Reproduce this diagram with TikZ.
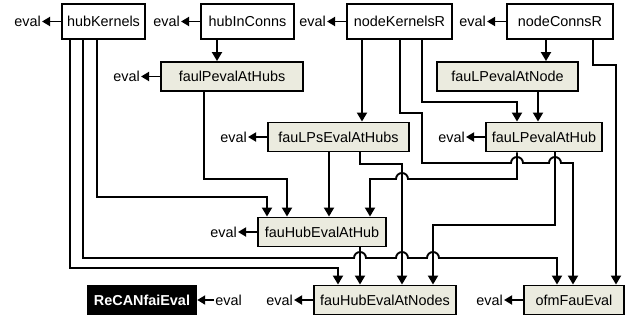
\documentclass[tikz,border=0pt]{standalone}
\usepackage{fontspec}
\setmainfont{Liberation Sans}
\usetikzlibrary{arrows.meta,positioning}
\definecolor{fnfill}{RGB}{235,235,223}
\newcommand{\lblfont}{\fontsize{14.4pt}{17pt}\selectfont}
\tikzset{
  inbox/.style={draw=black, fill=white, line width=1.9pt, minimum height=35pt, inner sep=0pt, font=\lblfont},
  fnbox/.style={draw=black, fill=fnfill, line width=1.9pt, minimum height=29pt, inner sep=0pt, font=\lblfont},
  mainbox/.style={fill=black, text=white, minimum height=30pt, inner sep=0pt, font=\lblfont\bfseries},
  evallbl/.style={inner sep=1pt, font=\lblfont},
  arrow/.style={-{Triangle[length=9pt,width=10pt]}, line width=1.9pt},
  evalarrow/.style={-{Triangle[length=8pt,width=9pt]}, line width=1.9pt}
}

\begin{document}
\begin{tikzpicture}[x=1pt,y=-1pt]
  \useasboundingbox (0,0) rectangle (634,324);
  % inputs
  \node[inbox, minimum width=83pt] (hk) at (103.5,21.5) {hubKernels};
  \node[inbox, minimum width=93pt] (hic) at (247.5,21.5) {hubInConns};
  \node[inbox, minimum width=105pt] (nkr) at (399.5,21.5) {nodeKernelsR};
  \node[inbox, minimum width=106pt] (ncr) at (560,21.5) {nodeConnsR};
  % functions
  \node[fnbox, minimum width=142pt] (fph) at (232,76.5) {faulPevalAtHubs};
  \node[fnbox, minimum width=141pt] (fpn) at (507.5,76.5) {fauLPevalAtNode};
  \node[fnbox, minimum width=141pt] (fps) at (338.5,137) {fauLPsEvalAtHubs};
  \node[fnbox, minimum width=116pt] (fpa) at (544,137) {fauLPevalAtHub};
  \node[fnbox, minimum width=128pt] (fhh) at (322,232) {fauHubEvalAtHub};
  \node[fnbox, minimum width=142pt] (fhn) at (385,300) {fauHubEvalAtNodes};
  \node[fnbox, minimum width=100pt] (ofm) at (574,300) {ofmFauEval};
  \node[mainbox, minimum width=110pt] (rc) at (142,300) {ReCANfaiEval};
  % eval labels
  \foreach \n in {hk,hic,nkr,ncr,fph,fps,fpa,fhh,fhn,ofm} {
    \node[evallbl, left=19pt of \n] (\n Eval) {eval};
    \draw[evalarrow] (\n.west) -- (\n Eval.east);
  }
  \node[evallbl, right=17pt of rc] (rcEval) {eval};
  \draw[evalarrow] (rcEval.west) -- (rc.east);
  % connectors
  \draw[arrow] (hic.south -| 217,0) -- (fph.north -| 217,0);
  \draw[arrow] (ncr.south -| 546,0) -- (fpn.north -| 546,0);
  \draw[arrow] (hk.south -| 97,0) |- (267,197) -- (fhh.north -| 267,0);
  \draw[arrow] (hk.south -| 83,0) |- (354,258) arc[start angle=180,end angle=360,radius=6]
    -- (396,258) arc[start angle=180,end angle=360,radius=6]
    -- (427,258) arc[start angle=180,end angle=360,radius=6] -| (ofm.north -| 557,0);
  \draw[arrow] (hk.south -| 70,0) |- (338,268) -- (fhn.north -| 338,0);
  \draw[arrow] (fph.south -| 204,0) |- (287,179) -- (fhh.north -| 287,0);
  \draw[arrow] (nkr.south -| 362,0) -- (fps.north -| 362,0);
  \draw[arrow] (nkr.south -| 400,0) |- (422,113) |- (511,163) arc[start angle=180,end angle=360,radius=6]
    -- (549,163) arc[start angle=180,end angle=360,radius=6] -| (ofm.north -| 573,0);
  \draw[arrow] (nkr.south -| 422,0) |- (517,102) -- (fpa.north -| 517,0);
  \draw[arrow] (fpn.south -| 538,0) -- (fpa.north -| 538,0);
  \draw[arrow] (ncr.south -| 593,0) |- (616,65) -- (ofm.north -| 616,0);
  \draw[arrow] (fps.south -| 329,0) -- (fhh.north -| 329,0);
  \draw[arrow] (fps.south -| 360,0) |- (402,164) -- (fhn.north -| 402,0);
  \draw[arrow] (fpa.south -| 517,0) |- (408,179) arc[start angle=0,end angle=-180,radius=6] -| (fhh.north -| 370,0);
  \draw[arrow] (fpa.south -| 555,0) |- (433,225) -- (fhn.north -| 433,0);
  \draw[arrow] (fhh.south -| 360,0) -- (fhn.north -| 360,0);
\end{tikzpicture}
\end{document}
